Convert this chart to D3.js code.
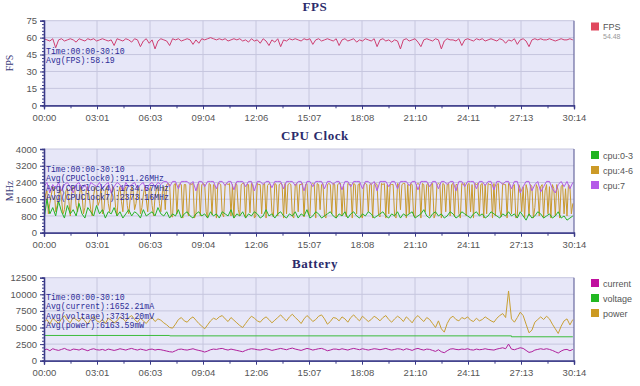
<!DOCTYPE html>
<html>
<head>
<meta charset="utf-8">
<script src="https://cdn.jsdelivr.net/npm/d3@7"></script>
<style>
  body { margin: 0; background: #fff; }
  svg text { font-family: "Liberation Sans", sans-serif; }
</style>
</head>
<body>
<div id="chart"></div>
<script>
// sampling step (seconds) for most series
const step = 10;
// cpu:4-6 is read more finely
const cpu4Step = 5;
const xLabels = ["00:00","03:01","06:03","09:04","12:06","15:07","18:08","21:10","24:11","27:13","30:14"];
const xMax = 1814;

const fps = [
  59,58,57,59,51,58,59,57,58,59,58,56,59,58,57,59,58,59,57,58,
  59,58,57,58,53,59,58,57,59,58,56,59,58,52,57,59,55,58,50,57,
  59,58,57,53,59,58,59,57,58,59,58,54,58,55,59,58,59,60,59,58,
  59,58,59,57,58,59,58,59,57,58,56,59,57,58,55,59,57,53,58,56,
  59,52,58,57,59,58,59,58,57,59,58,59,54,58,59,57,58,59,58,57,
  59,53,58,59,57,58,59,56,58,57,59,58,57,59,52,58,59,57,58,56,
  58,57,50,58,59,57,58,59,56,52,58,59,58,57,59,58,50,57,59,58,
  58,57,59,53,58,59,58,57,59,58,59,57,58,59,58,57,59,58,55,58,
  57,59,54,58,59,57,52,58,59,58,59,58,58,59,58,57,58,59,58,58,
  59,58
];
const fpsTicks = [0,15,30,45,60,75];

const cpu0 = [
  600,1600,900,1200,800,1500,1000,700,1300,900,1100,800,1400,900,700,1200,1000,800,1300,900,
  1100,700,1000,900,1200,800,1000,700,900,1100,800,1000,900,700,1100,800,900,1000,800,1200,
  900,800,1000,700,900,800,1100,700,900,1000,800,700,900,1000,800,900,700,1000,800,900,
  700,1000,900,800,1100,700,900,800,1000,700,900,800,1000,900,700,800,1100,800,900,700,
  900,1000,800,700,900,800,1000,700,900,800,1100,700,800,1000,900,700,800,900,1000,800,
  700,900,800,1000,700,900,1000,800,700,900,800,1000,900,700,800,900,1000,800,700,900,
  800,1000,700,900,800,900,1000,700,800,900,1100,800,700,900,1000,800,900,700,800,1000,
  900,700,800,1000,900,800,700,900,1000,800,900,700,800,1000,900,800,700,900,800,1000,
  800,900,700,1000,800,600,900,700,800,1000,900,700,800,900,700,800,1000,700,800,600,
  700,800
];
const cpu4 = [
  1200,1800,2000,900,1400,1800,2200,2100,1000,1300,1700,2200,1600,900,1100,2000,2100,1500,800,1900,
  2200,2100,1300,1000,1600,2200,1900,900,1200,2100,2200,1700,1100,800,1800,2200,2000,1300,1500,2100,
  900,1100,2000,2200,1400,1000,1700,2200,2100,1200,800,1900,2200,1500,1000,2100,2200,1300,900,1600,
  2200,2000,1100,1400,2100,2200,900,1200,1800,2200,1600,1000,2000,2200,1300,800,1700,2100,2200,1400,
  1000,1900,2200,1100,2300,2350,2300,800,750,2300,2350,900,2250,2350,2300,700,2300,2300,1000,800,
  2350,2300,2350,700,900,2300,2350,800,2300,2350,2300,1000,700,2350,2300,850,2300,2200,700,2350,
  2350,2300,900,750,2300,2350,2300,2350,800,2300,700,2350,2300,1100,800,2300,2350,2350,700,2300,
  2300,950,2350,2300,700,800,2350,2300,2300,900,2300,2350,700,2250,2350,2300,1000,750,2350,2300,
  800,2300,2350,2300,700,2350,900,2300,2350,2300,800,700,2300,2350,1000,2300,2300,2350,750,2300,
  2350,900,800,2300,2350,2300,700,2350,2300,1100,2300,2350,800,700,2300,2350,2300,900,2350,2300,
  700,2300,2350,2350,800,2300,1000,750,2350,2300,2300,700,2350,2300,900,2300,2350,800,700,2300,
  2350,2300,1000,2300,2350,700,2300,2350,2300,850,750,2350,2300,2350,700,2300,900,2350,2300,2300,
  800,700,2350,2300,1100,2300,2350,2350,700,2300,900,2350,2300,800,750,2300,2350,2300,700,2350,
  2300,1000,2300,2350,800,2300,2350,700,900,2300,2350,2300,700,2350,2300,1000,2300,2350,800,2300,
  2350,750,2300,2300,900,700,2350,2300,2350,800,2300,2350,1000,2300,700,2350,2300,2350,850,2300,
  2350,700,2300,900,2350,2300,2300,700,2350,800,2300,2350,1100,750,2350,2300,2300,700,2350,2300,
  900,2200,2300,700,800,2300,2100,1000,2200,700,2300,2000,800,2300,2200,700,1200,2300,2100,800,
  2200,2300,700,2000,2300,900,2200,700,2300,2100,800,2300,2000,700,2200,2300,900,2100,800,2300,
  2200,900,1400
];
const cpu7 = [
  2200,2400,1900,2300,2100,2400,2000,2300,2400,2200,1900,2300,2400,2100,2300,2000,2400,2300,2200,2400,
  2100,2300,2400,1900,2200,2400,2300,2000,2400,2200,2300,2400,2100,2300,2400,2000,2300,2400,2200,2400,
  2300,2450,2450,2200,2450,2450,2100,2450,2450,2450,2300,2450,2000,2450,2450,2200,2450,2450,2450,2100,
  2450,2450,2250,2450,2450,2050,2450,2450,2450,2200,2450,2450,2000,2450,2450,2300,2450,2450,2150,2450,
  2450,2450,2100,2450,2450,2450,2250,2450,2450,2000,2450,2450,2200,2450,2450,2450,2100,2450,2450,2300,
  2450,2450,2050,2450,2450,2200,2450,2450,2450,2100,2450,2450,2300,2450,2000,2450,2450,2450,2200,2450,
  2450,2100,2450,2450,2450,2250,2450,2450,2050,2450,2450,2450,2200,2450,2450,2100,2450,2450,2300,2450,
  2450,2000,2450,2450,2200,2450,2450,2450,2100,2450,2450,2250,2450,2450,2050,2450,2450,2300,2450,2450,
  2100,2450,2450,1900,2200,2450,2450,2000,2300,2450,1950,2200,2450,2450,2100,1900,2300,2450,2200,2450,
  2100,2400
];
const cpuTicks = [0,800,1600,2400,3200,4000];

const current = [
  1600,1750,1500,1800,1650,1550,1700,1850,1650,1550,1750,1700,1600,1800,1650,1500,1700,1800,1650,1600,
  1700,1550,1750,1650,1550,1650,1800,1700,1600,1750,1850,1700,1600,1750,1650,1550,1700,1750,1600,1700,
  1650,1550,1450,1350,1300,1500,1700,1750,1650,1600,1700,1800,1650,1550,1450,1300,1450,1650,1750,1700,
  1800,1850,1700,1600,1750,1650,1550,1450,1350,1550,1700,1800,1750,1650,1600,1700,1800,1700,1550,1650,
  1750,1850,1750,1650,1800,1900,1750,1650,1550,1700,1850,1750,1600,1700,1800,1850,1700,1500,1600,1750,
  1750,1650,1800,1700,1600,1750,1850,1750,1650,1800,1700,1600,1700,1800,1750,1650,1750,1850,1700,1600,
  1700,1800,1750,1600,1800,1700,1550,1750,1850,1700,1600,1750,1700,1550,1400,1650,1350,1200,1500,1750,
  1800,1700,1650,1750,1700,1800,1650,1600,1750,1650,1700,1800,1700,1650,1600,1750,1850,1950,1800,2500,
  1750,1650,1800,1950,1850,1550,1250,1350,1600,1700,1800,1700,1800,1700,1550,1350,1150,1450,1650,1700,
  1500,1700
];
const power = [
  5800,6200,5500,6400,6000,5600,6300,6800,6100,5700,6500,6200,5900,6600,6000,5500,6300,6700,6000,5800,
  6200,5600,6400,6100,5700,6000,6600,6300,5900,6500,6800,6200,5800,6400,6000,5600,6200,6500,5900,6300,
  6100,5700,5400,5000,4900,5500,6200,6500,6000,5800,6300,6600,6100,5600,5200,4800,5400,6000,6400,6200,
  6600,6800,6300,5900,6500,6100,5700,5300,5000,5600,6200,6700,6400,6000,5800,6300,6600,6200,5700,6100,
  6500,6900,6400,6000,6600,7000,6500,6100,5600,6300,6800,6400,5900,6200,6700,6900,6300,5500,5900,6500,
  6400,6000,6600,6300,5800,6500,6900,6400,6000,6700,6300,5900,6200,6700,6400,6000,6500,6800,6200,5800,
  6300,6700,6400,5900,6600,6200,5700,6400,6800,6300,5900,6500,6200,5600,5000,6000,4800,4300,5600,6400,
  6700,6200,6000,6500,6300,6600,6100,5900,6400,6000,6200,6600,6300,6000,5800,6400,6800,7100,6500,10500,
  6300,5800,6500,7300,6800,5500,4200,4600,5800,6200,6600,6200,6700,6300,5500,4800,4100,5200,6000,6300,
  5400,6200
];
// voltage only changes a couple of times, so it keeps its own time list
const voltageTime = [0,430,430,1600,1600,1810];
const voltage = [3800,3800,3740,3740,3600,3600];
const batTicks = [0,2500,5000,7500,10000,12500];

var margin = { left: 44, right: 66 };
var plotW = 640 - margin.left - margin.right;

var svg = d3.select("#chart")
    .append("svg")
    .attr("width", 640)
    .attr("height", 386);

var x = d3.scaleLinear().domain([0, xMax]).range([margin.left, margin.left + plotW]);
var xMajor = xLabels.map((d, i) => i * xMax / 10);
var xMinor = xMajor.slice(0, -1).map(d => d + xMax / 20);

/*
* Draws one panel (title, grid, axes, lines, notes, legend).
*/
function draw_panel(p) {
    var ymax = p.ticks[p.ticks.length - 1];
    var y = d3.scaleLinear().domain([0, ymax]).range([p.bottom, p.top]);
    var g = svg.append("g");

    g.append("text")
        .attr("x", 315).attr("y", p.titleY)
        .attr("text-anchor", "middle")
        .style("font-family", "'Liberation Serif', serif")
        .style("font-weight", "bold")
        .style("font-size", "13px")
        .style("letter-spacing", "0.6px")
        .attr("fill", "#2b2b6b")
        .text(p.title);

    g.append("rect")
        .attr("x", x(0)).attr("y", y(ymax))
        .attr("width", plotW).attr("height", p.bottom - p.top)
        .attr("fill", "#e7e7f8");

    // grid
    g.selectAll(".hg").data(p.ticks.slice(1)).enter().append("line")
        .attr("x1", x(0)).attr("x2", x(xMax))
        .attr("y1", d => y(d)).attr("y2", d => y(d))
        .attr("stroke", "#c6c6de").attr("stroke-width", 1);
    g.selectAll(".vg").data(xMajor.slice(1, -1)).enter().append("line")
        .attr("x1", d => x(d)).attr("x2", d => x(d))
        .attr("y1", p.top).attr("y2", p.bottom)
        .attr("stroke", "#c6c6de").attr("stroke-width", 1);

    // series
    p.series.forEach(s => {
        var line = d3.line()
            .x((d, i) => x(s.t ? s.t[i] : i * (s.step || step)))
            .y(d => y(d));
        g.append("path")
            .datum(s.values)
            .attr("d", line)
            .attr("fill", "none")
            .attr("stroke", s.color)
            .attr("stroke-width", 1);
    });

    // right border
    g.append("line")
        .attr("x1", x(xMax)).attr("x2", x(xMax))
        .attr("y1", p.top).attr("y2", p.bottom)
        .attr("stroke", "#6a6aa0").attr("stroke-width", 1.2);

    // x axis
    g.append("g")
        .attr("transform", "translate(0," + p.bottom + ")")
        .call(d3.axisBottom(x).tickValues(xMajor).tickFormat((d, i) => xLabels[i]).tickSize(4).tickPadding(5));
    g.append("g")
        .attr("transform", "translate(0," + p.bottom + ")")
        .call(d3.axisBottom(x).tickValues(xMinor).tickFormat("").tickSize(3));

    // y axis
    var sub = (p.ticks[1] - p.ticks[0]) / 5;
    g.append("g")
        .attr("transform", "translate(" + x(0) + ",0)")
        .call(d3.axisLeft(y).tickValues(d3.range(0, ymax + sub / 2, sub)).tickFormat("").tickSize(2));
    g.append("g")
        .attr("transform", "translate(" + x(0) + ",0)")
        .call(d3.axisLeft(y).tickValues(p.ticks).tickFormat(d3.format("d")).tickSize(4).tickPadding(3));

    g.selectAll(".domain").attr("stroke", "#3a3a88").attr("stroke-width", 1.3);
    g.selectAll(".tick line").attr("stroke", "#3a3a88");
    g.selectAll(".tick text")
        .attr("fill", "#555")
        .style("font-family", "'Liberation Sans', sans-serif")
        .style("font-size", "9.5px");

    if (p.yTitle) {
        g.append("text")
            .attr("transform", "translate(13," + ((p.top + p.bottom) / 2) + ")rotate(-90)")
            .attr("text-anchor", "middle")
            .style("font-family", "'Liberation Serif', serif")
            .style("font-size", "10px")
            .attr("fill", "#3a3a7a")
            .text(p.yTitle);
    }

    // notes
    p.notes.forEach((t, i) => {
        g.append("text")
            .attr("x", x(0) + 2).attr("y", p.noteY + i * 9.3)
            .style("font-family", "'Liberation Mono', monospace")
            .style("font-size", "8.2px")
            .attr("fill", "#2c2c96")
            .text(t);
    });

    // legend
    p.legend.forEach((l, i) => {
        var ly = p.legendY + i * 15;
        g.append("rect")
            .attr("x", 591).attr("y", ly - 4)
            .attr("width", 8).attr("height", 8)
            .attr("fill", l.color);
        g.append("text")
            .attr("x", 603).attr("y", ly + 3.5)
            .style("font-family", "'Liberation Sans', sans-serif")
            .style("font-size", "9px")
            .attr("fill", "#555")
            .text(l.name);
    });
    return g;
}

var fpsPanel = draw_panel({
    title: "FPS", titleY: 11, top: 20.7, bottom: 105.3, ticks: fpsTicks, yTitle: "FPS",
    series: [{ values: fps, color: "#cf3f72" }],
    notes: ["Time:00:00-30:10", "Avg(FPS):58.19"], noteY: 53.5,
    legend: [{ name: "FPS", color: "#e0485e" }], legendY: 26.5
});
fpsPanel.append("text")
    .attr("x", 603).attr("y", 39)
    .style("font-size", "7px")
    .attr("fill", "#999")
    .text("54.48");

draw_panel({
    title: "CPU Clock", titleY: 140, top: 149, bottom: 232.7, ticks: cpuTicks, yTitle: "MHz",
    series: [
        { values: cpu4, step: cpu4Step, color: "#c99a2e" },
        { values: cpu7, color: "#b25ee6" },
        { values: cpu0, color: "#28b428" }
    ],
    notes: ["Time:00:00-30:10", "Avg(CPUClock0):911.26MHz", "Avg(CPUClock4):1734.57MHz", "Avg(CPUClock7):2373.16MHz"], noteY: 172,
    legend: [
        { name: "cpu:0-3", color: "#1fb31f" },
        { name: "cpu:4-6", color: "#cc9a28" },
        { name: "cpu:7", color: "#b45ae8" }
    ], legendY: 155
});

draw_panel({
    title: "Battery", titleY: 268, top: 277.7, bottom: 360.7, ticks: batTicks, yTitle: null,
    series: [
        { values: power, color: "#c8a035" },
        { values: voltage, t: voltageTime, color: "#3cbc3c" },
        { values: current, color: "#b0209c" }
    ],
    notes: ["Time:00:00-30:10", "Avg(current):1652.21mA", "Avg(voltage):3731.20mV", "Avg(power):6163.59mW"], noteY: 300,
    legend: [
        { name: "current", color: "#c0109e" },
        { name: "voltage", color: "#22b822" },
        { name: "power", color: "#cc9a22" }
    ], legendY: 283
});
</script>
</body>
</html>
